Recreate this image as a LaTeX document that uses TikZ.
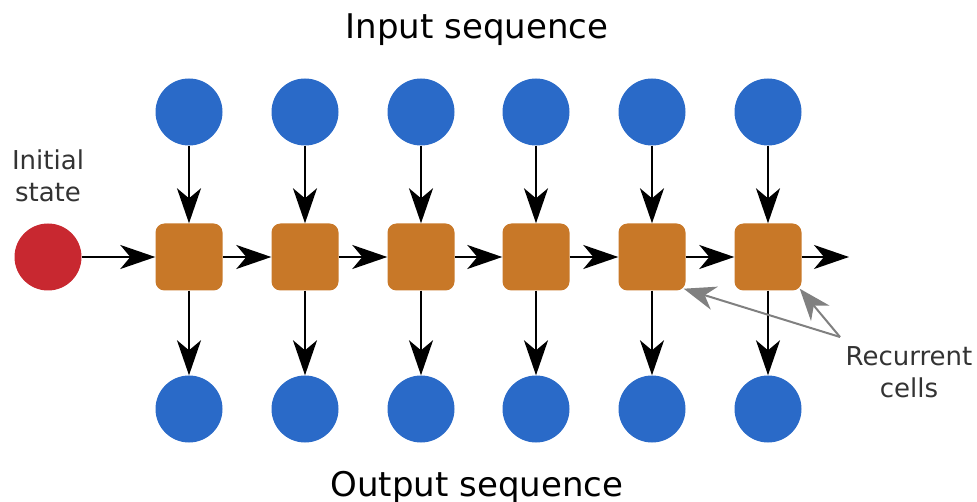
\documentclass[tikz,border=0pt]{standalone}
\usepackage{fontspec}
\setmainfont{DejaVu Sans}
\usetikzlibrary{arrows.meta}
\definecolor{cellblue}{RGB}{42,106,200}
\definecolor{cellorange}{RGB}{200,120,40}
\definecolor{cellred}{RGB}{200,40,48}
\definecolor{labelgray}{RGB}{51,51,51}
\definecolor{pointgray}{RGB}{128,128,128}
\begin{document}
\begin{tikzpicture}[x=1pt,y=-1pt,
  io/.style={circle,fill=cellblue,minimum size=67pt,inner sep=0pt},
  cell/.style={rectangle,rounded corners=9pt,fill=cellorange,minimum size=67pt,inner sep=0pt},
  init/.style={circle,fill=cellred,minimum size=67pt,inner sep=0pt},
  flow/.style={line width=2.2pt,-{Stealth[length=35pt,width=24pt,inset=10pt]}},
  pointer/.style={line width=2pt,draw=pointgray,-{Stealth[length=32pt,width=24pt,inset=10pt]}},
  title/.style={font=\fontsize{34}{40}\selectfont,text=black},
  label/.style={font=\fontsize{26}{32}\selectfont,text=labelgray,align=center}]
\useasboundingbox (0,0) rectangle (977,502);
\node[title] (tin) at (477,30) {Input sequence};
\node[title] (tout) at (477,487) {Output sequence};
\node[label] (tinit) at (48,176) {Initial\\state};
\node[label] (trec) at (909,372) {Recurrent\\cells};
\node[init] (h0) at (48,257) {};
\foreach \i/\x in {1/189,2/305,3/421,4/536,5/652,6/768}{
  \node[io] (x\i) at (\x,112) {};
  \node[cell] (c\i) at (\x,257) {};
  \node[io] (y\i) at (\x,409) {};
  \draw[flow] (x\i) -- (c\i);
  \draw[flow] (c\i) -- (y\i);
}
\draw[flow] (h0) -- (c1);
\foreach \a/\b in {1/2,2/3,3/4,4/5,5/6}{
  \draw[flow] (c\a) -- (c\b);
}
\coordinate (end) at (849,257);
\draw[flow] (c6) -- (end);
\coordinate (pt) at (840,337);
\draw[pointer] (pt) -- ([shift={(-2pt,2pt)}]c5.south east);
\draw[pointer] (pt) -- ([shift={(-2pt,2pt)}]c6.south east);
\end{tikzpicture}
\end{document}
